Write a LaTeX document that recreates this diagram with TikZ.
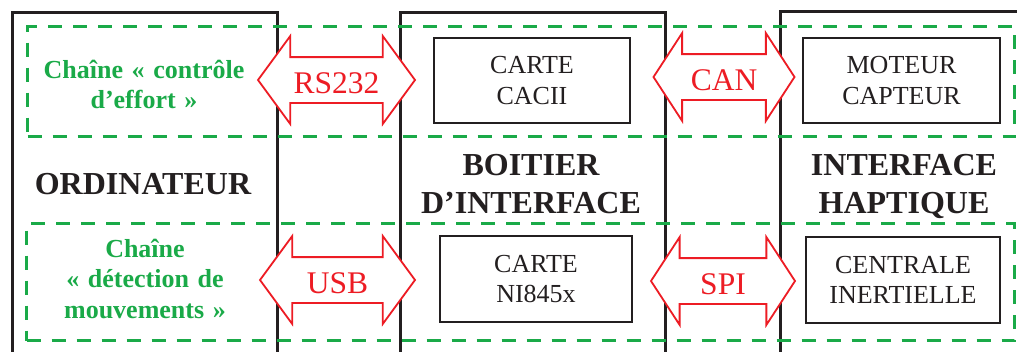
\documentclass[tikz,border=0pt]{standalone}
\usepackage{fontspec}
\setmainfont{Liberation Serif}
\usetikzlibrary{shapes.arrows}
\definecolor{chgreen}{RGB}{26,170,72}
\definecolor{ifred}{RGB}{237,28,36}
\definecolor{ink}{RGB}{35,31,32}
\begin{document}
\begin{tikzpicture}[x=1pt,y=-1pt,
  bigbox/.style={draw=ink,line width=3.2pt,inner sep=0pt,anchor=north west},
  chain/.style={draw=chgreen,line width=3.2pt,dash pattern=on 14pt off 11pt,inner sep=0pt,anchor=north west},
  card/.style={draw=ink,line width=1.6pt,fill=white,inner sep=0pt,text width=180pt,align=center,
    font=\fontsize{26}{30.5}\selectfont,text=ink},
  link/.style={double arrow,draw=ifred,fill=white,line width=1.8pt,text=ifred,inner xsep=0pt,
    inner ysep=9pt,text height=26pt,text depth=0pt,
    minimum width=86pt,double arrow head extend=21pt,font=\fontsize{31.5}{36}\selectfont},
  title/.style={text=ink,font=\fontsize{32}{38}\selectfont\bfseries,text width=260pt,align=center,
    anchor=base,inner sep=0pt},
  chaintext/.style={text=chgreen,font=\fontsize{26}{30.5}\selectfont\bfseries,text width=260pt,
    align=center,anchor=base,inner sep=0pt}
]
\useasboundingbox (0,0) rectangle (1017,351);
\clip (0,0) rectangle (1017,351);
\fill[white] (0,0) rectangle (1017,351);

% main blocks
\node[bigbox,minimum width=265.5pt,minimum height=380pt] (ord) at (10.5,11) {};
\node[bigbox,minimum width=265pt,minimum height=380pt] (boi) at (399,11) {};
\node[bigbox,minimum width=280pt,minimum height=380pt] (hap) at (779,10) {};

% chains
\node[chain,minimum width=987pt,minimum height=110pt] (chA) at (26,25) {};
\node[chain,minimum width=988pt,minimum height=117pt] (chB) at (25,222) {};

% titles
\node[title] (tord) at (143,194) {ORDINATEUR};
\node[title] (tboi) at (531,175) {BOITIER\\D’INTERFACE};
\node[title] (thap) at (904,175) {INTERFACE\\HAPTIQUE};

\node[chaintext] (tchA) at (144,78) {Chaîne « contrôle\\d’effort »};
\node[chaintext] (tchB) at (145,257) {Chaîne\\« détection de\\mouvements »};

% cards
\node[card,minimum width=196pt,minimum height=85pt] (cacii) at (532,80.5) {CARTE\\CACII};
\node[card,minimum width=197pt,minimum height=85pt] (mot) at (901.5,80.5) {MOTEUR\\CAPTEUR};
\node[card,minimum width=192pt,minimum height=86pt] (ni) at (536,279) {CARTE\\NI845x};
\node[card,minimum width=194pt,minimum height=86pt] (cen) at (903,280) {CENTRALE\\INERTIELLE};

% links
\node[link,minimum height=157pt,double arrow tip angle=107.5] (rs) at (336.5,80) {RS232};
\node[link,minimum height=155pt,double arrow tip angle=107.5] (usb) at (337.5,280) {USB};
\node[link,minimum height=141pt,double arrow tip angle=113.8] (can) at (724,77) {CAN};
\node[link,minimum height=144pt,double arrow tip angle=113.8] (spi) at (723,281) {SPI};
\end{tikzpicture}
\end{document}
